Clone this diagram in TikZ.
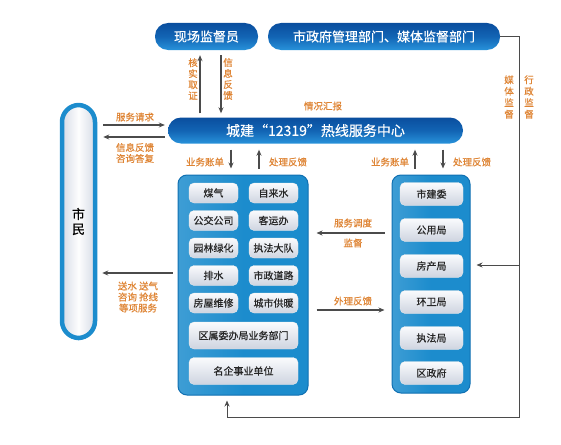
\documentclass[tikz,border=0pt]{standalone}
\usepackage{fontspec}
\setmainfont{Noto Sans CJK SC}
\newfontfamily\medfont[FakeBold=0.5]{Noto Sans CJK SC}
\usetikzlibrary{arrows.meta,calc}
\definecolor{org}{RGB}{222,132,52}
\definecolor{pillA}{RGB}{10,78,158}
\definecolor{pillM}{RGB}{18,100,180}
\definecolor{pillB}{RGB}{40,146,218}
\definecolor{boxblue}{RGB}{28,140,205}
\definecolor{boxedge}{RGB}{16,112,178}
\definecolor{cellA}{RGB}{250,251,253}
\definecolor{cellB}{RGB}{206,212,224}
\definecolor{citA}{RGB}{214,219,230}
\definecolor{linec}{RGB}{75,75,75}
\begin{document}
\begin{tikzpicture}[x=1pt,y=-1pt,
  pill/.style={rounded corners=13pt, top color=pillA, bottom color=pillB, middle color=pillM,
    text=white, font=\medfont\fontsize{13}{13}\selectfont, inner sep=0pt, minimum height=27pt},
  bluebox/.style={rounded corners=9pt, left color=boxblue!85!white, right color=boxblue, middle color=boxblue, draw=boxedge, line width=1pt},
  cell/.style={rounded corners=5pt, top color=cellA, bottom color=cellB, draw=white!85!gray,
    line width=0.3pt, inner sep=0pt, font=\medfont\fontsize{10}{10}\selectfont, text=black!85},
  lcell/.style={cell, minimum width=49pt, minimum height=20pt},
  rcell/.style={cell, minimum width=63pt, minimum height=23pt},
  wcell/.style={cell, minimum width=109pt, minimum height=27pt},
  lbl/.style={text=org, font=\medfont\fontsize{9.5}{11}\selectfont, inner sep=0pt, align=center},
  arr/.style={draw=linec, line width=1.1pt, -{Stealth[length=6pt,width=5pt]}},
  ln/.style={draw=linec, line width=1.1pt},
]
\useasboundingbox (0,0) rectangle (561,444);

% top pills
\node[pill, minimum width=103pt] (sup) at (206.5,36.5) {现场监督员};
\node[pill, minimum width=232pt] (gov) at (384,36.5) {市政府管理部门、媒体监督部门};
\node[pill, minimum width=295pt, minimum height=26pt, font=\medfont\fontsize{14}{14}\selectfont] (center) at (315.5,130.5) {城建“12319”热线服务中心};

% citizen
\node[rounded corners=17pt, left color=citA, right color=citA, middle color=white!96!citA,
  draw=boxblue, line width=4.5pt, minimum width=33pt, minimum height=233pt, inner sep=0pt,
  align=center, font=\medfont\fontsize{13}{15}\selectfont] (cit) at (78.5,221.5) {市\\民};

% big boxes
\node[bluebox, minimum width=130pt, minimum height=220pt] (lbox) at (243,285) {};
\node[bluebox, minimum width=78pt, minimum height=218pt] (rbox) at (431,284) {};

% left cells
\node[lcell] (c11) at (213.5,193) {煤气};
\node[lcell] (c12) at (273.5,193) {自来水};
\node[lcell] (c21) at (213.5,220.5) {公交公司};
\node[lcell] (c22) at (273.5,220.5) {客运办};
\node[lcell] (c31) at (213.5,248) {园林绿化};
\node[lcell] (c32) at (273.5,248) {执法大队};
\node[lcell] (c41) at (213.5,275.5) {排水};
\node[lcell] (c42) at (273.5,275.5) {市政道路};
\node[lcell] (c51) at (213.5,303) {房屋维修};
\node[lcell] (c52) at (273.5,303) {城市供暖};
\node[wcell] (c6) at (243.5,335.5) {区属委办局业务部门};
\node[wcell] (c7) at (243.5,371) {名企事业单位};

% right cells
\node[rcell] (r1) at (431.5,194) {市建委};
\node[rcell] (r2) at (431.5,230) {公用局};
\node[rcell] (r3) at (431.5,266) {房产局};
\node[rcell] (r4) at (431.5,302) {环卫局};
\node[rcell] (r5) at (431.5,338) {执法局};
\node[rcell] (r6) at (431.5,373) {区政府};

% helper coordinates
\coordinate (xa) at (200,0);
\coordinate (xb) at (221,0);
\coordinate (xc) at (231,0);
\coordinate (xd) at (259,0);
\coordinate (xe) at (415,0);
\coordinate (xf) at (443,0);
\coordinate (xg) at (227,0);
\coordinate (ya) at (0,125);
\coordinate (yb) at (0,137);
\coordinate (yc) at (0,273);
\coordinate (yd) at (0,233);
\coordinate (ye) at (0,310);
\coordinate (yr) at (0,265);
\coordinate (corner1) at (519,36.5);
\coordinate (corner2) at (519,417);
\coordinate (corner3) at (227,417);
\coordinate (branch) at (519,265);

% supervisor arrows
\draw[arr, shorten <=4pt, shorten >=5pt] (center.north -| xa) -- (sup.south -| xa);
\draw[arr, shorten <=5pt, shorten >=4pt] (sup.south -| xb) -- (center.north -| xb);
\node[lbl] at (193,79) {核\\实\\取\\证};
\node[lbl] at (228,79) {信\\息\\反\\馈};
\node[lbl] at (323,106) {情况汇报};

% citizen arrows
\draw[arr, shorten <=6pt, shorten >=3pt] (cit.east |- ya) -- (center.west |- ya);
\draw[arr, shorten <=3pt, shorten >=6pt] (center.west |- yb) -- (cit.east |- yb);
\node[lbl] at (135,117) {服务请求};
\node[lbl] at (135,153) {信息反馈\\咨询答复};
\draw[arr, shorten <=5pt, shorten >=5pt] (lbox.west |- yc) -- (cit.east |- yc);
\node[lbl] at (138,297) {送水 送气\\咨询 抢线\\等项服务};

% center to boxes
\draw[arr, shorten <=6pt, shorten >=6pt] (center.south -| xc) -- (lbox.north -| xc);
\draw[arr, shorten <=6pt, shorten >=6pt] (lbox.north -| xd) -- (center.south -| xd);
\node[lbl] at (205,162) {业务账单};
\node[lbl] at (288,162) {处理反馈};
\draw[arr, shorten <=6pt, shorten >=6pt] (rbox.north -| xe) -- (center.south -| xe);
\draw[arr, shorten <=6pt, shorten >=6pt] (center.south -| xf) -- (rbox.north -| xf);
\node[lbl] at (390,162) {业务账单};
\node[lbl] at (472,162) {处理反馈};

% between boxes
\draw[arr, shorten <=7pt, shorten >=8pt] (rbox.west |- yd) -- (lbox.east |- yd);
\node[lbl] at (353,223) {服务调度};
\node[lbl] at (353,243) {监督};
\draw[arr, shorten <=8pt, shorten >=7pt] (lbox.east |- ye) -- (rbox.west |- ye);
\node[lbl] at (353,301) {外理反馈};

% supervision loop
\draw[ln, line width=1pt] (gov.east) -- (corner1) -- (corner2) -- (corner3);
\draw[arr, line width=1pt, shorten >=5pt] (corner3) -- (lbox.south -| xg);
\draw[arr, line width=1pt, shorten >=6pt] (branch) -- (rbox.east |- yr);
\node[lbl, font=\medfont\fontsize{9.5}{11.5}\selectfont] at (509,97) {媒\\体\\监\\督};
\node[lbl, font=\medfont\fontsize{9.5}{11.5}\selectfont] at (529,97) {行\\政\\监\\督};
\end{tikzpicture}
\end{document}
